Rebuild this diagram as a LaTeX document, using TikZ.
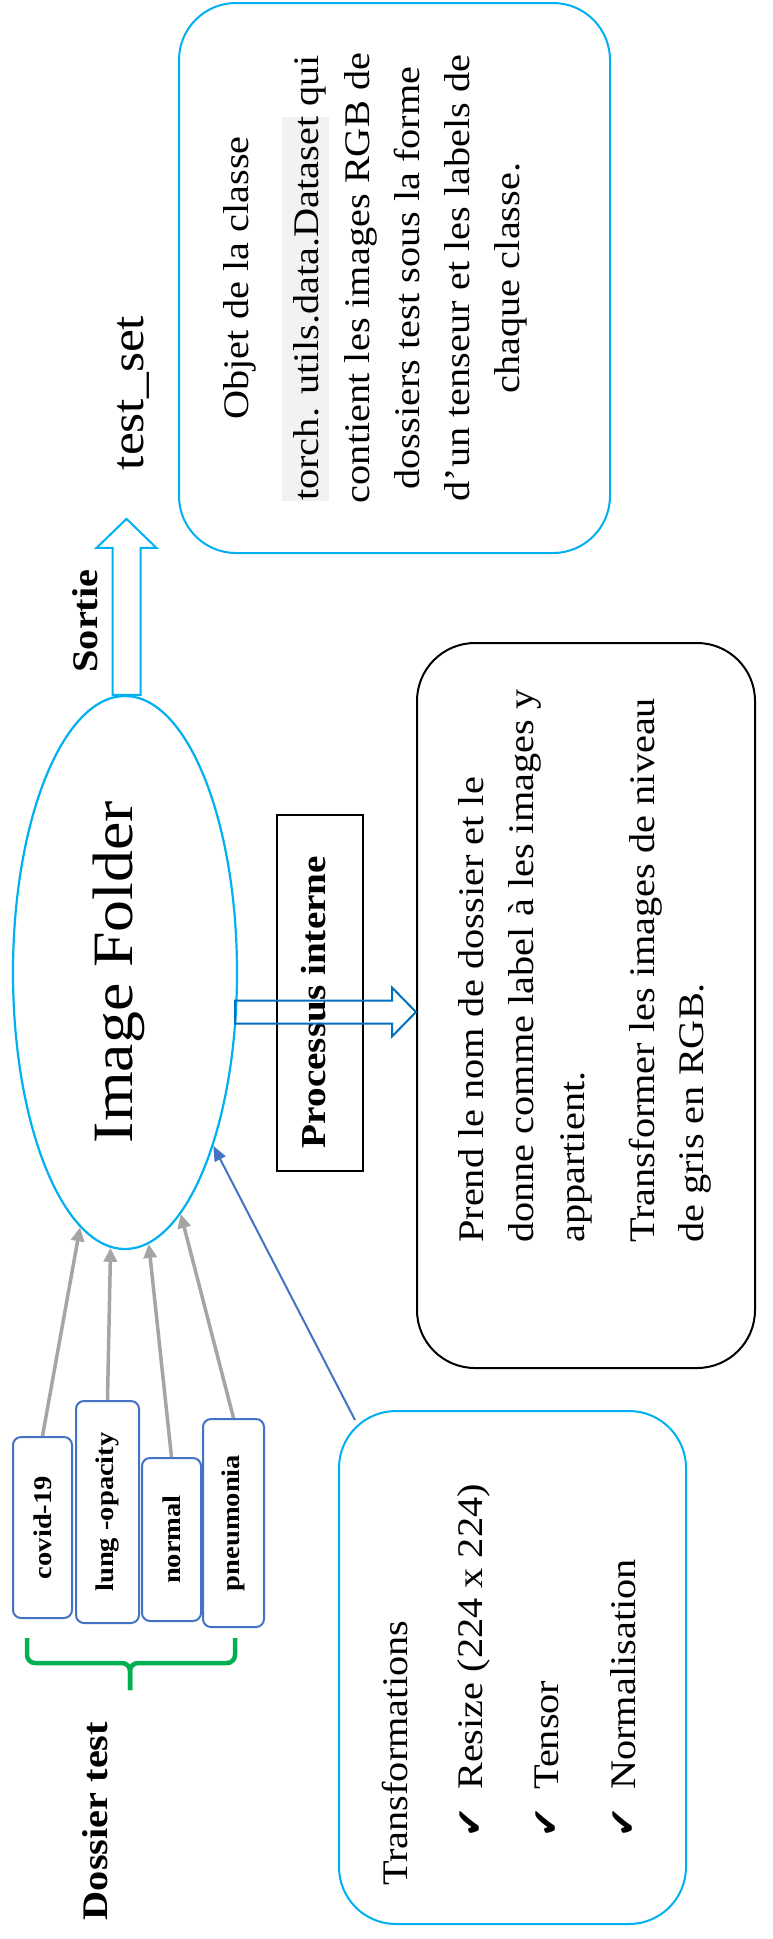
\documentclass[tikz,border=0pt]{standalone}
\usepackage{fontspec}
\setmainfont{Liberation Serif}[FakeStretch=1.12]
\newfontfamily\symbolfont{DejaVu Sans}
\usetikzlibrary{shapes.geometric,arrows.meta,calc}

\definecolor{skyline}{HTML}{00B0F0}
\definecolor{flowblue}{HTML}{0070C0}
\definecolor{tagblue}{HTML}{4472C4}
\definecolor{feedgrey}{HTML}{A5A5A5}
\definecolor{bracegreen}{HTML}{00B050}
\definecolor{codeshade}{HTML}{F2F2F4}

\newcommand{\pxsize}[1]{\fontsize{#1}{#1}\selectfont}
\newcommand{\tick}{{\symbolfont\pxsize{36}✔}}

\begin{document}
\begin{tikzpicture}[x=1pt,y=-1pt,
  panel/.style={draw=skyline, line width=2pt, rounded corners=57pt, inner sep=0pt},
  blackpanel/.style={draw=black, line width=2pt, rounded corners=58pt, inner sep=0pt},
  tag/.style={draw=tagblue, fill=white, line width=2pt, rounded corners=8pt, rotate=90,
    inner sep=0pt, font={\bfseries\pxsize{25.5}}},
  word/.style={rotate=90, inner sep=0pt, font={\pxsize{36}}},
  feed/.style={draw=feedgrey, line width=3.5pt, -{Triangle[length=14pt,width=13pt]}},
  hint/.style={draw=tagblue, line width=2pt, -{Triangle[length=15pt,width=12pt]}},
  blockarrow/.style={line width=2pt, line join=miter},
  brace/.style={draw=bracegreen, line width=4.5pt, rounded corners=8pt}
]
\useasboundingbox[fill=white] (0,0) rectangle (772,1939);

% central ImageFolder ellipse
\node[ellipse, draw=skyline, line width=2.2pt, minimum width=224pt, minimum height=553pt,
  inner sep=0pt] (img) at (125,972.5) {};
\node[rotate=90, inner sep=0pt, font={\pxsize{57}}, anchor=base] (imgtxt) at (132,972) {Image Folder};

% output panel
\node[panel, minimum width=431pt, minimum height=550pt] (obj) at (394.5,278) {};
\node[word, anchor=base] (o1) at (248,278) {Objet de la classe};
\node[word, anchor=base] (o2) at (318,278)
  {{\setlength{\fboxsep}{0pt}\colorbox{codeshade}{\rule[-11pt]{0pt}{47pt}torch. utils.data.Dataset}} qui};
\node[word, anchor=base] (o3) at (369,278) {contient les images RGB de};
\node[word, anchor=base] (o4) at (419,278) {dossiers test sous la forme};
\node[word, anchor=base] (o5) at (469,278) {d’un tenseur et les labels de};
\node[word, anchor=base] (o6) at (519,278) {chaque classe.};

% output label and arrow
\node[word, font={\pxsize{46}}, anchor=base] (out) at (143,393) {test\_set};
\node[word, font={\bfseries\pxsize{36}}, anchor=base] (sortie) at (97,621) {Sortie};
\coordinate (stip) at ($(img.north)+(1.5,-176)$);
\draw[blockarrow, draw=skyline] ($(stip)+(-14,176)$) -- ($(stip)+(-14,29)$) -- ($(stip)+(-30,29)$)
  -- (stip) -- ($(stip)+(30,29)$) -- ($(stip)+(14,29)$) -- ($(stip)+(14,176)$) -- cycle;

% internal processing
\node[draw=black, line width=2pt, minimum width=86pt, minimum height=356pt, inner sep=0pt]
  (pbox) at (320,993) {};
\node[word, font={\bfseries\pxsize{35}}, anchor=base] (ptxt) at (325,1002) {Processus interne};

\node[blackpanel, minimum width=338pt, minimum height=725pt] (proc) at (586,1005.5) {};
\node[word, anchor=base west] (p1) at (483,1243) {Prend le nom de dossier et le};
\node[word, anchor=base west] (p2) at (533,1243) {donne comme label à les images y};
\node[word, anchor=base west] (p3) at (584,1243) {appartient.};
\node[word, anchor=base west] (p4) at (654,1243) {Transformer les images de niveau};
\node[word, anchor=base west] (p5) at (703,1243) {de gris en RGB.};

\coordinate (ptip) at ($(proc.west)+(0,6.5)$);
\draw[blockarrow, draw=flowblue] ($(ptip)+(-181,-11.5)$) -- ($(ptip)+(-24,-11.5)$)
  -- ($(ptip)+(-24,-24.5)$) -- (ptip) -- ($(ptip)+(-24,24.5)$) -- ($(ptip)+(-24,11.5)$)
  -- ($(ptip)+(-181,11.5)$) -- cycle;

% class folders
\node[tag, minimum width=181pt, minimum height=59pt] (covid) at (42.5,1527.5) {covid-19};
\node[tag, minimum width=222pt, minimum height=63pt] (lung) at (107.5,1512) {lung -opacity};
\node[tag, minimum width=163pt, minimum height=59pt] (normal) at (171.5,1539.5) {normal};
\node[tag, minimum width=208pt, minimum height=61pt] (pneu) at (233.5,1523) {pneumonia};

\draw[feed] (covid.east) -- (img.260);
\draw[feed] (lung.east) -- (img.267.5);
\draw[feed] (normal.east) -- (img.275);
\draw[feed] (pneu.east) -- (img.283.5);

\draw[brace] (27,1638) -- (27,1663) -- (130,1663) -- (130,1690);
\draw[brace] (235,1638) -- (235,1663) -- (130,1663) -- (130,1690);
\node[word, font={\bfseries\pxsize{36}}, anchor=base] (dossier) at (107,1821) {Dossier test};

% transformations panel
\node[panel, minimum width=347pt, minimum height=513pt] (trans) at (512.5,1667.5) {};
\node[word, anchor=base west] (t0) at (407,1886) {Transformations};
\node[word, anchor=base west] (t1) at (482,1838) {\makebox[48pt][l]{\tick}Resize (224 x 224)};
\node[word, anchor=base west] (t2) at (558,1838) {\makebox[48pt][l]{\tick}Tensor};
\node[word, anchor=base west] (t3) at (635,1838) {\makebox[48pt][l]{\tick}Normalisation};

\coordinate (tstart) at ($(trans.north west)+(17,10)$);
\draw[hint] (tstart) -- (img.297);

\end{tikzpicture}
\end{document}
